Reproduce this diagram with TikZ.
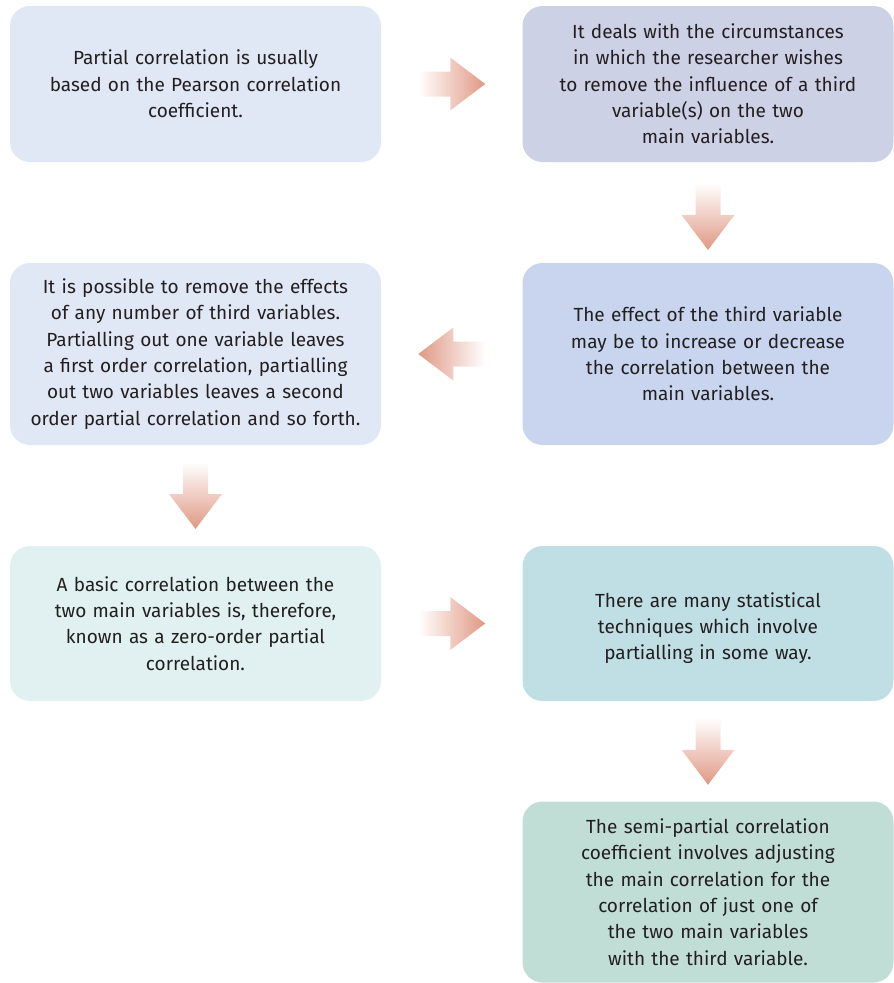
\documentclass[tikz,border=0pt]{standalone}
\usepackage{fontspec}
\setmainfont{Fira Sans}
\usetikzlibrary{calc}
\definecolor{boxA}{RGB}{225,232,245}
\definecolor{boxB}{RGB}{205,209,230}
\definecolor{boxC}{RGB}{201,213,238}
\definecolor{boxD}{RGB}{225,241,241}
\definecolor{boxE}{RGB}{192,223,228}
\definecolor{boxF}{RGB}{193,222,214}
\definecolor{arrowc}{RGB}{224,152,132}
\definecolor{txt}{RGB}{35,31,32}
\tikzset{
  card/.style={rounded corners=20pt, minimum width=371pt, text width=360pt,
    align=center, inner sep=0pt, text=txt,
    font=\fontsize{19}{26.3}\selectfont},
  pics/arrowR/.style={code={
    \shade[left color=white, right color=arrowc]
      (-33.5,-12.5) -- (-1.5,-12.5) -- (-1.5,-26.5) -- (33.5,0)
      -- (-1.5,26.5) -- (-1.5,12.5) -- (-33.5,12.5) -- cycle;}},
  pics/arrowL/.style={code={
    \shade[right color=white, left color=arrowc]
      (33.5,-12.5) -- (1.5,-12.5) -- (1.5,-26.5) -- (-33.5,0)
      -- (1.5,26.5) -- (1.5,12.5) -- (33.5,12.5) -- cycle;}},
  pics/arrowD/.style={code={
    \shade[top color=white, bottom color=arrowc]
      (-12.5,-33.5) -- (-12.5,-1.5) -- (-26.5,-1.5) -- (0,33.5)
      -- (26.5,-1.5) -- (12.5,-1.5) -- (12.5,-33.5) -- cycle;}},
}
\begin{document}
\begin{tikzpicture}[x=1pt,y=-1pt]
\useasboundingbox (0,0) rectangle (894,983);

\node[card, fill=boxA, minimum height=156pt] (b1) at (195.5,84)
  {Partial correlation is usually\\based on the Pearson correlation\\coefficient.};
\node[card, fill=boxB, minimum height=156pt] (b2) at (708,84)
  {It deals with the circumstances\\in which the researcher wishes\\to remove the influence of a third\\variable(s) on the two\\main variables.};
\node[card, fill=boxA, minimum height=182pt] (b3) at (195.5,354)
  {It is possible to remove the effects\\of any number of third variables.\\Partialling out one variable leaves\\a first order correlation, partialling\\out two variables leaves a second\\order partial correlation and so forth.};
\node[card, fill=boxC, minimum height=182pt] (b4) at (708,354)
  {The effect of the third variable\\may be to increase or decrease\\the correlation between the\\main variables.};
\node[card, fill=boxD, minimum height=155pt] (b5) at (195.5,623.5)
  {A basic correlation between the\\two main variables is, therefore,\\known as a zero-order partial\\correlation.};
% the taller strut on the first line sets this block a little lower
\node[card, fill=boxE, minimum height=155pt] (b6) at (708,623.5)
  {\rule{0pt}{24pt}There are many statistical\\techniques which involve\\partialling in some way.};
\node[card, fill=boxF, minimum height=181pt] (b7) at (708,892)
  {The semi-partial correlation\\coefficient involves adjusting\\the main correlation for the\\correlation of just one of\\the two main variables\\with the third variable.};

% block arrows placed midway between neighbouring cards
\pic at ($(b1.east)!0.5!(b2.west)$) {arrowR};
\pic at ($(b2.south)!0.5!(b4.north)+(0,4)$) {arrowD};
\pic at ($(b4.west)!0.5!(b3.east)$) {arrowL};
\pic at ($(b3.south)!0.5!(b5.north)$) {arrowD};
\pic at ($(b5.east)!0.5!(b6.west)$) {arrowR};
\pic at ($(b6.south)!0.5!(b7.north)$) {arrowD};
\end{tikzpicture}
\end{document}
